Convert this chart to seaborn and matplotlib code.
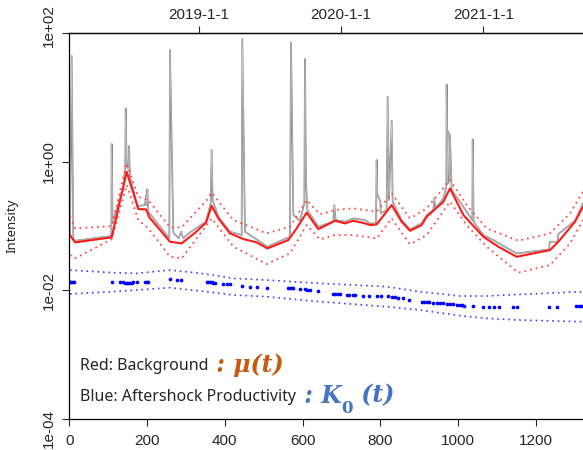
import numpy as np
import pandas as pd
import matplotlib
matplotlib.use("Agg")
import matplotlib.pyplot as plt
import matplotlib.transforms as mtransforms
import seaborn as sns

# ---------------- data (intensities stored as log10) ----------------
gray_t = [1.8, 6.1, 10.4, 14.7, 108.1, 109, 111.5, 139, 144, 145, 147.6, 152.7, 153.6, 156,
          175, 194.7, 197.3, 199, 200.7, 203.3, 257.3, 259, 267.6, 281.3, 287.3, 293.3, 310.4,
          351.6, 363.6, 366.1, 368.7, 383.3, 413.3, 443.3, 445, 451.9, 481.9, 509.3, 567.6,
          570.2, 576.2, 593.3, 604.5, 606.2, 608.7, 612.2, 640.5, 679, 681.6, 685, 709, 730.5,
          760.5, 773.4, 788.8, 790.5, 792, 800, 801, 816.2, 818.8, 822.2, 829.1, 831.7, 854.8,
          876.2, 906.2, 919.1, 936.2, 938.8, 942.2, 962, 969.7, 970.5, 973.1, 975, 976.8,
          979, 983.4, 1013.5, 1036.6, 1037.5, 1040, 1064.9, 1090.6, 1150.6, 1234.6, 1235.5,
          1256, 1257.8, 1300.6, 1321.2]
gray_log = [-1.142, 1.646, -1.21, -1.23, -1.157, 0.275, -0.95, -0.39, -0.078, 0.831, -0.026,
            -0.13, 0.244, -0.234, -0.69, -0.675, -0.519, -0.675, -0.43, -0.78, -1.194, 1.74,
            -1.106, -1.194, -1.09, -1.194, -1.10, -0.934, -0.649, 0.182, -0.597, -0.857, -1.09,
            -1.142, 1.911, -1.09, -1.21, -1.324, -1.168, 1.859, -0.83, -0.919, -0.649, 1.6,
            -0.311, -0.753, -1.012, -0.934, -0.675, -0.908, -0.934, -0.882, -0.908, -0.96,
            -0.96, 0.026, -0.5, -0.62, -0.80, -0.752, 1.013, -0.597, 0.639, -0.623, -0.908,
            -1.054, -0.96, -0.83, -0.752, -0.571, -0.727, -0.571, -0.389, 1.205, -0.337, 0.47,
            -0.30, 0.416, -0.441, -0.701, -0.908, 0.348, -0.934, -1.142, -1.22, -1.428, -1.365,
            -1.246, -1.246, -1.126, -0.919, -0.649]

mu_t = [1.8, 14.7, 109, 147.6, 177.6, 197.3, 205.9, 259, 289, 323.3, 351.6, 366.1, 383.3,
        413.3, 447.6, 481.9, 509.3, 563.3, 584.7, 610.4, 640.5, 683.3, 709, 730.5, 760.5,
        773.4, 790.5, 829.1, 854.8, 876.2, 906.2, 919.1, 962, 979.1, 1013.5, 1064.9, 1103.5,
        1150.6, 1236.3, 1257.8, 1300.6, 1321.2]
mu_log = [-1.142, -1.256, -1.178, -0.156, -0.737, -0.742, -0.867, -1.246, -1.272, -1.106,
          -0.95, -0.685, -0.882, -1.116, -1.204, -1.256, -1.35, -1.22, -1.038, -0.794, -1.049,
          -0.919, -0.96, -0.919, -0.96, -0.986, -0.976, -0.675, -0.934, -1.075, -0.986, -0.857,
          -0.623, -0.415, -0.83, -1.168, -1.324, -1.48, -1.376, -1.246, -0.934, -0.701]

mu_up_t = [1.8, 14.7, 109, 147.6, 177.6, 203.3, 259, 289, 353.3, 366.2, 421.9, 507.6, 567.6,
           610.5, 644.8, 683.4, 730.5, 790.5, 829.1, 876.3, 919.1, 979.1, 1022, 1073.4,
           1154.9, 1236.3, 1287.8, 1321.2]
mu_up_log = [-0.856, -1.038, -1.002, -0.025, -0.545, -0.597, -1.022, -1.022, -0.597, -0.482,
             -0.908, -1.116, -1.012, -0.597, -0.82, -0.752, -0.726, -0.778, -0.493, -0.882,
             -0.726, -0.285, -0.674, -1.038, -1.23, -1.116, -0.804, -0.467]

mu_lo_t = [1.8, 14.7, 109, 147.6, 177.6, 203.3, 259, 289, 366.2, 421.9, 507.6, 567.6, 610.5,
           644.8, 683.4, 730.5, 790.5, 829.1, 876.3, 919.1, 979.1, 1022, 1073.4, 1154.9,
           1236.3, 1287.8, 1321.2]
mu_lo_log = [-1.453, -1.505, -1.209, -0.363, -0.908, -1.038, -1.479, -1.505, -0.882, -1.323,
             -1.594, -1.427, -0.986, -1.21, -1.142, -1.142, -1.194, -0.882, -1.287, -1.142,
             -0.623, -0.986, -1.323, -1.728, -1.609, -1.272, -0.908]

k0_up_t = [1.8, 109, 173, 259, 353, 422, 508, 645, 816, 902, 1005, 1073, 1159, 1321]
k0_up_log = [-1.687, -1.728, -1.739, -1.687, -1.749, -1.817, -1.843, -1.894, -1.946, -2.024,
             -2.092, -2.092, -2.066, -2.024]
k0_lo_t = [1.8, 109, 259, 353, 422, 508, 645, 816, 902, 1005, 1073, 1159, 1321]
k0_lo_log = [-2.06, -2.024, -1.962, -2.024, -2.076, -2.102, -2.18, -2.258, -2.31, -2.398,
             -2.44, -2.466, -2.492]

k0_t = [2, 5, 9, 13, 110.7, 130.4, 139, 143.3, 147.6, 151.8, 156.1, 160.4, 164.7, 175,
        194.7, 199, 203.3, 259, 277.9, 286.4, 353.3, 358, 362, 366, 370, 374.7, 396, 404.8,
        413.3, 443.3, 464.8, 481.9, 507.6, 563, 568, 572, 576, 593.4, 606, 612, 619, 640.5,
        679, 684, 690, 696, 713, 719, 729, 735, 756, 771.7, 790.5, 801.7, 820.5, 829, 837.7,
        846, 857, 874.6, 906.3, 912, 919, 925, 936.3, 945, 953, 962, 970.6, 979, 988, 996.3,
        1004, 1010, 1016, 1039.2, 1064.9, 1079.5, 1092.3, 1105.2, 1140.3, 1150.6, 1234.6,
        1255.2, 1303, 1310, 1316, 1321]
k0_log = [-1.879, -1.879, -1.879, -1.879, -1.869, -1.879, -1.879, -1.885, -1.885, -1.885,
          -1.885, -1.885, -1.879, -1.879, -1.869, -1.869, -1.869, -1.832, -1.843, -1.843,
          -1.879, -1.879, -1.879, -1.879, -1.885, -1.885, -1.91, -1.91, -1.91, -1.936, -1.95,
          -1.95, -1.96, -1.96, -1.96, -1.96, -1.96, -1.99, -1.99, -1.995, -1.995, -2.02,
          -2.066, -2.066, -2.066, -2.066, -2.08, -2.08, -2.08, -2.08, -2.087, -2.087, -2.087,
          -2.087, -2.087, -2.10, -2.11, -2.12, -2.13, -2.15, -2.18, -2.18, -2.185, -2.19,
          -2.20, -2.20, -2.205, -2.205, -2.21, -2.215, -2.22, -2.225, -2.23, -2.235, -2.24,
          -2.247, -2.258, -2.258, -2.258, -2.258, -2.268, -2.268, -2.258, -2.258, -2.247,
          -2.247, -2.247, -2.247]

x_ticks = [0, 200, 400, 600, 800, 1000, 1200]
top_ticks = [334, 699, 1065]
top_labels = ["2019-1-1", "2020-1-1", "2021-1-1"]
y_ticks = [1e-4, 1e-2, 1e0, 1e2]
y_labels = ["1e-04", "1e-02", "1e+00", "1e+02"]


def frame(t, lg):
    return pd.DataFrame({"t": t, "v": 10.0 ** np.asarray(lg)})


# ---------------- figure ----------------
sns.set_style("ticks")
plt.rcParams["font.family"] = ["Liberation Sans", "DejaVu Sans"]

W, H = 583, 450
fig = plt.figure(figsize=(W / 100, H / 100), dpi=100)
x0, x1 = 69.3, 583.0
yb, yt = 418.5, 33.4
ax = fig.add_axes([x0 / W, 1 - yb / H, (x1 - x0) / W, (yb - yt) / H])
ax.set_yscale("log")

kw = dict(x="t", y="v", estimator=None, sort=False, ax=ax, legend=False)
sns.lineplot(data=frame(gray_t, gray_log), color="#8a8a8a", linewidth=1.25, **kw)
sns.lineplot(data=frame(gray_t, gray_log), color="#d4d4d4", linewidth=0.35, **kw)
sns.lineplot(data=frame(mu_up_t, mu_up_log), color="#ff4a4a", linewidth=1.3,
             linestyle=(0, (1, 2.2)), **kw)
sns.lineplot(data=frame(mu_lo_t, mu_lo_log), color="#ff4a4a", linewidth=1.3,
             linestyle=(0, (1, 2.2)), **kw)
sns.lineplot(data=frame(mu_t, mu_log), color="#ff1a1a", linewidth=1.5, **kw)
sns.lineplot(data=frame(k0_up_t, k0_up_log), color="#4040ff", linewidth=1.2,
             linestyle=(0, (1, 2.3)), **kw)
sns.lineplot(data=frame(k0_lo_t, k0_lo_log), color="#4040ff", linewidth=1.2,
             linestyle=(0, (1, 2.3)), **kw)
sns.scatterplot(data=frame(k0_t, k0_log), x="t", y="v", ax=ax, color="#0000ff",
                marker="o", s=7, linewidth=0, legend=False)

ax.set_xlim(0, 1321.2)
ax.set_ylim(1e-4, 1e2)
ax.set_xticks(x_ticks)
ax.set_xticklabels([str(v) for v in x_ticks])
ax.set_yticks(y_ticks)
ax.set_yticklabels(y_labels, rotation=90, va="center")
ax.yaxis.set_minor_locator(matplotlib.ticker.NullLocator())
ax.set_xlabel("")
ax.set_ylabel("Intensity", fontsize=9.5, family=["Noto Sans", "DejaVu Sans"])
ax.yaxis.set_label_coords((18 - x0) / (x1 - x0), 0.5)

for s in ["left", "bottom", "top"]:
    ax.spines[s].set_linewidth(0.9)
    ax.spines[s].set_color("black")
ax.spines["right"].set_visible(False)
ax.tick_params(axis="x", direction="out", length=5, width=0.8, labelsize=11, pad=6)
ax.tick_params(axis="y", direction="out", length=5, width=0.8, labelsize=11, pad=5)

sec = ax.secondary_xaxis("top")
sec.set_xticks(top_ticks)
sec.set_xticklabels(top_labels)
sec.tick_params(direction="out", length=5, width=0.8, labelsize=11, pad=3)
sec.spines["top"].set_linewidth(0.9)

# shift the end y labels like the reference
labels = ax.get_yticklabels()
labels[0].set_transform(labels[0].get_transform() +
                        mtransforms.ScaledTranslation(0, -10 / 100, fig.dpi_scale_trans))
labels[-1].set_transform(labels[-1].get_transform() +
                         mtransforms.ScaledTranslation(0, 8 / 100, fig.dpi_scale_trans))

# annotation texts
txt_font = ["Noto Sans", "DejaVu Sans"]
fx = (80 - x0) / (x1 - x0)
ry = (yb - 366) / (yb - yt)
by = (yb - 397) / (yb - yt)
t1 = ax.text(fx, ry, "Red: Background", transform=ax.transAxes, fontsize=11.5,
             family=txt_font, va="center", ha="left")
ax.annotate(" : \u03bc(t)", xy=(1, 0.5), xycoords=t1, xytext=(0, 1), textcoords="offset points",
            va="center", ha="left", fontsize=17, color="#C55A11", fontweight="bold",
            fontstyle="italic", family=["DejaVu Serif"])
t2 = ax.text(fx, by, "Blue: Aftershock Productivity", transform=ax.transAxes, fontsize=11.5,
             family=txt_font, va="center", ha="left")
k1 = ax.annotate(" : K", xy=(1, 0.5), xycoords=t2, xytext=(0, 1), textcoords="offset points",
                 va="center", ha="left", fontsize=17, color="#4472C4", fontweight="bold",
                 fontstyle="italic", family=["DejaVu Serif"])
k2 = ax.annotate("0", xy=(1, 0.2), xycoords=k1, xytext=(0, -4), textcoords="offset points",
                 va="center", ha="left", fontsize=12, color="#4472C4", fontweight="bold",
                 family=["DejaVu Serif"])
ax.annotate(" (t)", xy=(1, 0.5), xycoords=(k2, k1), xytext=(0, 0), textcoords="offset points",
            va="center", ha="left", fontsize=17, color="#4472C4", fontweight="bold",
            fontstyle="italic", family=["DejaVu Serif"])

fig.savefig("out.png", dpi=100)
